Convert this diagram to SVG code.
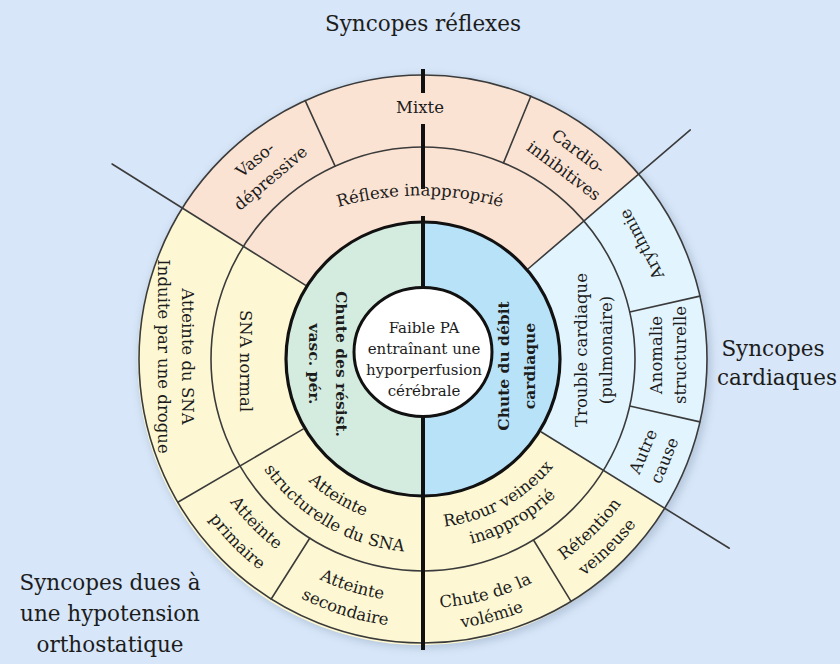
<svg xmlns="http://www.w3.org/2000/svg" width="840" height="664" viewBox="0 0 840 664">
<defs>
<style>
.t{font-family:"DejaVu Serif","Liberation Serif",serif;fill:#1c1c1c}
.big{font-size:21.5px}
.lab{font-size:16.5px}
.ctr{font-size:15px}
.bd{font-size:15.5px;font-weight:bold}
.ln{stroke:#3b3b3b;stroke-width:1.6;fill:none;stroke-linecap:round}
.bk{stroke:#111;fill:none}
.peach{fill:#fbe3d3}
.yel{fill:#fdf8d3}
.cya{fill:#e2f4fd}
</style>
<filter id="sh" x="-20%" y="-20%" width="140%" height="140%"><feGaussianBlur stdDeviation="4"/></filter>
<path id="pRef" d="M230.7 264.4 A294.5 294.5 0 0 1 609.3 264.4"/>
<path id="pRet1" d="M335.5 503.6 A169 169 0 0 0 592.0 362.5"/>
<path id="pRet2" d="M325.8 523.4 A191 191 0 0 0 614.0 361.0"/>
<path id="pAs1" d="M255.6 353.7 A167.5 167.5 0 0 0 502.2 506.6"/>
<path id="pAs2" d="M229.5 357.3 A193.5 193.5 0 0 0 518.3 527.4"/>
<path id="pSec1" d="M185.5 412.5 A243.5 243.5 0 0 0 588.1 537.9"/>
<path id="pSec2" d="M161.1 418.0 A268.5 268.5 0 0 0 605.1 556.3"/>
<path id="pPri1" d="M191.3 294.7 A240.5 240.5 0 0 0 483.2 591.8"/>
<path id="pPri2" d="M165.7 287.7 A267 267 0 0 0 489.9 617.5"/>
<path id="pVol1" d="M246.9 535.1 A249 249 0 0 0 663.5 423.4"/>
<path id="pVol2" d="M231.0 551.0 A271.5 271.5 0 0 0 685.2 429.3"/>
<path id="pVen1" d="M357.0 595.5 A245.5 245.5 0 0 0 660.8 297.9"/>
<path id="pVen2" d="M350.4 619.1 A270 270 0 0 0 684.5 291.9"/>
</defs>

<rect x="0" y="0" width="840" height="664" fill="#d7e6f8"/>
<circle cx="425" cy="362" r="286" fill="#7f93ad" opacity="0.4" filter="url(#sh)"/>

<g id="sectors">
<path class="peach" d="M423 359 L182.4 208.1 A284 284 0 0 1 638.6 174.2 Z"/>
<path class="cya" d="M423 359 L638.6 174.2 A284 284 0 0 1 664.6 508.2 Z"/>
<path class="yel" d="M423 359 L664.6 508.2 A284 284 0 1 1 182.4 208.1 Z"/>
</g>

<g id="rings">
<circle cx="423" cy="359" r="284" class="ln" stroke-width="2"/>
<circle cx="423" cy="359" r="212" class="ln"/>
</g>

<g id="connectors">
<line class="ln" x1="305.3" y1="285.1" x2="112.1" y2="164.0"/>
<line class="ln" x1="528.5" y1="268.5" x2="690.3" y2="129.9"/>
<line class="ln" x1="541.3" y1="432.0" x2="729.3" y2="548.2"/>
<line class="ln" x1="335.1" y1="166.1" x2="305.2" y2="100.6"/>
<line class="ln" x1="503.5" y1="162.9" x2="530.8" y2="96.2"/>
<line class="ln" x1="629.7" y1="312.0" x2="699.9" y2="296.1"/>
<line class="ln" x1="629.7" y1="406.0" x2="699.9" y2="421.9"/>
<line class="ln" x1="533.5" y1="540.0" x2="571.0" y2="601.4"/>
<line class="ln" x1="309.7" y1="538.2" x2="271.2" y2="599.0"/>
<line class="ln" x1="303.0" y1="429.1" x2="177.8" y2="502.3"/>
</g>

<g id="inner-halves">
<path d="M423 222 A137 137 0 0 0 423 496 Z" fill="#d4ece0"/>
<path d="M423 222 A137 137 0 0 1 423 496 Z" fill="#b8e2f8"/>
<circle cx="423" cy="359" r="137" class="bk" stroke-width="3.2"/>
</g>

<g id="axis" stroke="#111" stroke-width="4">
<line x1="423" y1="69" x2="423" y2="93"/>
<line x1="423" y1="124" x2="423" y2="189"/>
<line x1="423" y1="216" x2="423" y2="290"/>
<line x1="423" y1="414" x2="423" y2="650"/>
</g>

<g id="node-center">
<ellipse cx="423" cy="352" rx="69" ry="64.5" fill="#ffffff" stroke="#111" stroke-width="3"/>
<text class="t ctr" text-anchor="middle" x="424" y="333">Faible PA</text>
<text class="t ctr" text-anchor="middle" x="424" y="354">entraînant une</text>
<text class="t ctr" text-anchor="middle" x="424" y="375">hyporperfusion</text>
<text class="t ctr" text-anchor="middle" x="424" y="396">cérébrale</text>
</g>

<g id="node-resist" transform="rotate(90 423 359)">
<text class="t bd" text-anchor="middle" x="428" y="446.5">Chute des résist.</text>
<text class="t bd" text-anchor="middle" x="428" y="473.5">vasc. pér.</text>
</g>
<g id="node-debit" transform="rotate(-90 423 359)">
<text class="t bd" text-anchor="middle" x="416" y="444.5">Chute du débit</text>
<text class="t bd" text-anchor="middle" x="416" y="470.5">cardiaque</text>
</g>

<g id="node-reflexe">
<text class="t lab" text-anchor="middle"><textPath href="#pRef" startOffset="50%">Réflexe inapproprié</textPath></text>
</g>
<g id="node-mixte">
<text class="t lab" text-anchor="middle" x="420" y="113">Mixte</text>
</g>
<g id="node-vaso" transform="rotate(-40.1 423 359)">
<text class="t lab" text-anchor="middle" x="423" y="104">Vaso-</text>
<text class="t lab" text-anchor="middle" x="423" y="128">dépressive</text>
</g>
<g id="node-cardio" transform="rotate(36.8 423 359)">
<text class="t lab" text-anchor="middle" x="423" y="105.5">Cardio-</text>
<text class="t lab" text-anchor="middle" x="423" y="129.5">inhibitives</text>
</g>

<g id="node-trouble" transform="rotate(-90 423 359)">
<text class="t lab" text-anchor="middle" x="432" y="522.5">Trouble cardiaque</text>
<text class="t lab" text-anchor="middle" x="432" y="547.5">(pulmonaire)</text>
</g>
<g id="node-arythmie" transform="rotate(-117.7 423 359)">
<text class="t lab" text-anchor="middle" x="423" y="611.5">Arythmie</text>
</g>
<g id="node-anomalie" transform="rotate(-90 423 359)">
<text class="t lab" text-anchor="middle" x="427" y="597.5">Anomalie</text>
<text class="t lab" text-anchor="middle" x="427" y="621.5">structurelle</text>
</g>
<g id="node-autre" transform="rotate(-67.2 423 359)">
<text class="t lab" text-anchor="middle" x="423" y="603.5">Autre</text>
<text class="t lab" text-anchor="middle" x="423" y="626.5">cause</text>
</g>

<g id="node-retour">
<text class="t lab" text-anchor="middle"><textPath href="#pRet1" startOffset="50%">Retour veineux</textPath></text>
<text class="t lab" text-anchor="middle"><textPath href="#pRet2" startOffset="50%">inapproprié</textPath></text>
</g>
<g id="node-retention">
<text class="t lab" text-anchor="middle"><textPath href="#pVen1" startOffset="50%">Rétention</textPath></text>
<text class="t lab" text-anchor="middle"><textPath href="#pVen2" startOffset="50%">veineuse</textPath></text>
</g>
<g id="node-volemie">
<text class="t lab" text-anchor="middle"><textPath href="#pVol1" startOffset="50%">Chute de la</textPath></text>
<text class="t lab" text-anchor="middle"><textPath href="#pVol2" startOffset="50%">volémie</textPath></text>
</g>
<g id="node-struct">
<text class="t lab" text-anchor="middle"><textPath href="#pAs1" startOffset="50%">Atteinte</textPath></text>
<text class="t lab" text-anchor="middle"><textPath href="#pAs2" startOffset="50%">structurelle du SNA</textPath></text>
</g>
<g id="node-secondaire">
<text class="t lab" text-anchor="middle"><textPath href="#pSec1" startOffset="50%">Atteinte</textPath></text>
<text class="t lab" text-anchor="middle"><textPath href="#pSec2" startOffset="50%">secondaire</textPath></text>
</g>
<g id="node-primaire">
<text class="t lab" text-anchor="middle"><textPath href="#pPri1" startOffset="50%">Atteinte</textPath></text>
<text class="t lab" text-anchor="middle"><textPath href="#pPri2" startOffset="50%">primaire</textPath></text>
</g>
<g id="node-sna-normal" transform="rotate(90 423 359)">
<text class="t lab" text-anchor="middle" x="425" y="542.5">SNA normal</text>
</g>
<g id="node-sna-atteinte" transform="rotate(90 423 359)">
<text class="t lab" text-anchor="middle" x="420.5" y="600.5">Atteinte du SNA</text>
<text class="t lab" text-anchor="middle" x="420.5" y="624.5">Induite par une drogue</text>
</g>

<g id="node-titles">
<text class="t big" text-anchor="middle" x="423" y="31">Syncopes réflexes</text>
<text class="t big" text-anchor="middle" x="773" y="356">Syncopes</text>
<text class="t big" text-anchor="middle" x="777" y="385">cardiaques</text>
<text class="t big" text-anchor="middle" x="110" y="590">Syncopes dues à</text>
<text class="t big" text-anchor="middle" x="110" y="621">une hypotension</text>
<text class="t big" text-anchor="middle" x="110" y="652">orthostatique</text>
</g>
</svg>
